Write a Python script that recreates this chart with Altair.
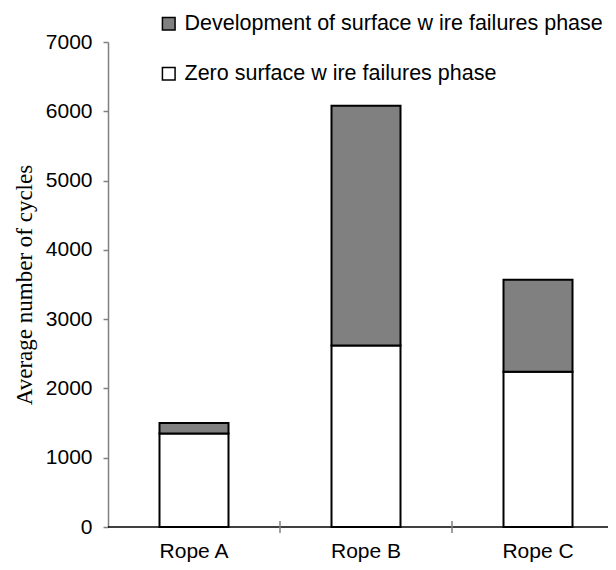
import altair as alt
import pandas as pd

ropes = ["Rope A", "Rope B", "Rope C"]
zero_phase = [1350, 2620, 2240]
dev_phase = [150, 3460, 1330]
phases = ["Development of surface w ire failures phase", "Zero surface w ire failures phase"]
colors = ["#808080", "#ffffff"]
tick_ropes = ["Rope B", "Rope C"]

rows = []
for r, z, d in zip(ropes, zero_phase, dev_phase):
    rows.append({"rope": r, "phase": phases[1], "value": z, "ord": 0})
    rows.append({"rope": r, "phase": phases[0], "value": d, "ord": 1})
df = pd.DataFrame(rows)

W, H = 500, 485
BAND = 172
xscale = alt.Scale(domain=ropes, paddingInner=0, paddingOuter=0, range=[0, 3 * BAND])

bars = alt.Chart(df).mark_bar(width=69, stroke="black", strokeWidth=2).encode(
    x=alt.X("rope:N", sort=ropes, scale=xscale,
            axis=alt.Axis(title=None, labelAngle=0, domain=False, ticks=False,
                          labelFont="Liberation Sans", labelFontSize=21,
                          labelColor="black", labelPadding=13)),
    y=alt.Y("value:Q", stack="zero",
            scale=alt.Scale(domain=[0, 7000], nice=False),
            axis=alt.Axis(title="Average number of cycles", values=list(range(0, 7001, 1000)),
                          format="d",
                          grid=False, domainColor="#808080", domainWidth=1.5,
                          tickColor="#808080", tickWidth=1.5, tickSize=5,
                          labelFont="Liberation Sans", labelFontSize=21,
                          labelColor="black", labelPadding=11,
                          titleFont="Liberation Serif", titleFontSize=23,
                          titleFontWeight="normal", titleColor="black",
                          titlePadding=9)),
    color=alt.Color("phase:N", scale=alt.Scale(domain=phases, range=colors),
                    legend=alt.Legend(title=None, orient="none", legendX=50, legendY=-29,
                                      symbolType="square", symbolSize=160,
                                      symbolStrokeColor="black", symbolStrokeWidth=1.5,
                                      labelFont="Liberation Sans", labelFontSize=21.5,
                                      labelColor="black", labelOffset=5, labelLimit=0,
                                      rowPadding=27, padding=0)),
    order=alt.Order("ord:Q"),
)

baseline = alt.Chart(pd.DataFrame({"v": [0]})).mark_rule(color="black", strokeWidth=1.5).encode(
    y=alt.Y("v:Q"),
    x=alt.value(0),
    x2=alt.value(W),
)

xticks = alt.Chart(pd.DataFrame({"rope": tick_ropes, "v": [0, 0]})).mark_tick(
    orient="vertical", size=12, thickness=1.5, color="#808080", opacity=1
).encode(
    x=alt.X("rope:N", scale=xscale, bandPosition=0),
    y=alt.Y("v:Q"),
)

chart = alt.layer(bars, baseline, xticks).properties(
    width=W, height=H,
    autosize=alt.AutoSizeParams(type="none"),
    padding={"left": 100, "top": 34, "right": 0, "bottom": 35},
).configure_view(stroke=None)

chart.save("out.html", embed_options={"renderer": "svg", "actions": False})
